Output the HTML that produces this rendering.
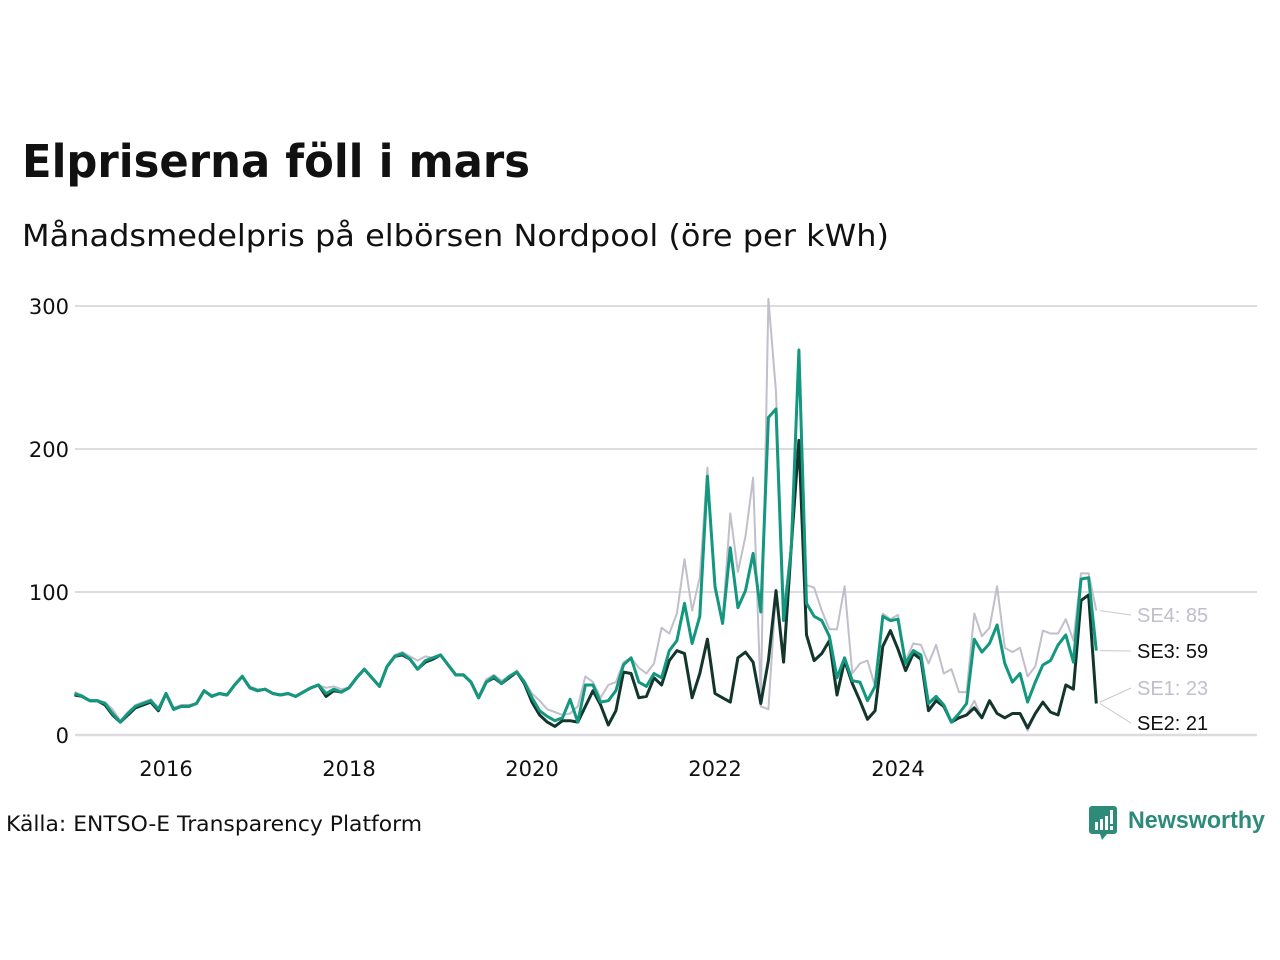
<!DOCTYPE html>
<html><head><meta charset="utf-8"><style>
body{margin:0;background:#fff;width:1280px;height:960px;overflow:hidden;font-family:"Liberation Sans",sans-serif}
svg{position:absolute;left:0;top:0}
</style></head><body>
<svg width="1280" height="960">
<text x="22" y="177" font-size="45" font-weight="bold" fill="#111" textLength="508" lengthAdjust="spacingAndGlyphs" font-family="DejaVu Sans, sans-serif">Elpriserna föll i mars</text>
<text x="22" y="246" font-size="30" fill="#111" textLength="867" lengthAdjust="spacingAndGlyphs" font-family="DejaVu Sans, sans-serif">Månadsmedelpris på elbörsen Nordpool (öre per kWh)</text>
<g id="grid"></g><g id="lines"></g><g id="labels"></g>
<text x="6" y="831" font-size="21" fill="#111" textLength="416" lengthAdjust="spacingAndGlyphs" font-family="DejaVu Sans, sans-serif">Källa: ENTSO-E Transparency Platform</text>
<g>
<path d="M1092 806h22a3 3 0 0 1 3 3v22a3 3 0 0 1-3 3h-7l-5 6-2-6h-8a3 3 0 0 1-3-3v-22a3 3 0 0 1 3-3z" fill="#2e8b7a"/>
<rect x="1095" y="822" width="3" height="8" fill="#fff"/><rect x="1100" y="819" width="3" height="11" fill="#fff"/><rect x="1105" y="816" width="3" height="14" fill="#fff"/><rect x="1110" y="810" width="3" height="14" fill="#fff"/><rect x="1110" y="826" width="3" height="4" fill="#fff"/>
<text x="1128" y="828" font-size="24" font-weight="bold" fill="#2e8b7a" textLength="137" lengthAdjust="spacingAndGlyphs">Newsworthy</text>
</g>
</svg>
<script>
const yTicks=[0,100,200,300];
const xTickLabels=["2016","2018","2020","2022","2024"];
const xTickMonths=[12,36,60,84,108];
const se3=[29,27,24,24,22,15,9,15,20,22,24,18,29,18,20,20,22,31,27,29,28,35,41,33,31,32,29,28,29,27,30,33,35,29,32,30,33,40,46,40,34,48,55,57,53,46,52,54,56,49,42,42,37,26,37,41,36,41,44,37,26,17,13,
10,12,25,9,35,35,23,24,31,49,54,37,34,43,40,59,66,92,64,83,181,104,78,131,89,101,127,86,222,228,80,131,269,92,83,80,69,40,54,38,37,24,34,83,80,81,50,59,56,22,27,21,9,15,22,67,58,64,77,50,37,43,23,37,49,52,63,70,51,109,110,59];
const se2=[28,27,24,24,21,14,9,14,19,21,23,17,29,18,20,20,22,31,27,29,28,35,41,33,31,32,29,28,29,27,30,33,35,27,31,30,33,40,46,40,34,48,55,56,53,46,51,53,56,49,42,42,37,26,37,40,36,40,44,36,23,14,9,
6,10,10,9,20,31,21,7,17,44,43,26,27,40,35,52,59,57,26,43,67,29,26,23,54,58,51,22,52,101,51,132,206,70,52,57,66,28,52,36,24,11,17,62,73,60,45,57,53,17,24,20,9,12,14,19,12,24,15,12,15,15,5,15,23,16,14,35,32,94,98,22];
const se1=[28,27,24,24,21,14,9,14,19,21,23,17,29,18,20,20,22,31,27,29,28,35,41,33,31,32,29,28,29,27,30,33,35,27,31,30,33,40,46,40,34,48,55,56,53,46,51,53,56,49,42,42,37,26,37,40,36,40,44,36,23,14,9,
6,10,10,9,20,31,21,7,17,44,43,26,27,40,35,52,59,57,26,43,67,29,26,23,54,58,51,20,18,101,51,132,206,70,52,57,66,28,52,36,24,11,17,62,73,60,45,57,53,17,24,20,9,12,14,24,12,24,15,12,15,15,3,15,23,16,14,35,32,94,98,23];
const se4=[30,28,24,24,23,18,10,16,21,23,25,19,29,19,21,21,22,31,28,29,28,35,41,34,32,32,29,28,29,27,30,33,35,33,34,32,33,40,46,40,34,48,56,58,55,52,55,54,56,49,42,42,37,27,39,42,38,41,45,38,29,24,18,
16,14,15,20,41,37,26,35,37,51,54,47,43,50,75,71,85,123,87,110,187,101,80,155,114,139,180,25,305,240,90,130,270,105,103,87,74,74,104,43,50,52,34,85,81,84,52,64,63,50,63,43,46,30,30,85,69,75,104,61,58,61,41,48,73,71,71,81,66,113,113,87];
const seriesNames=["SE4","SE3","SE1","SE2"];
const endLabelValues=[85,59,23,21];
const NS="http://www.w3.org/2000/svg";
const X=i=>74.5+7.625*i;
const Y=v=>735-1.43*v;
const grid=document.getElementById('grid'),lines=document.getElementById('lines'),labels=document.getElementById('labels');
function mk(tag,attrs,parent){const e=document.createElementNS(NS,tag);for(const k in attrs)e.setAttribute(k,attrs[k]);parent.appendChild(e);return e;}
yTicks.forEach(v=>{
  const l=mk('line',{x1:75,x2:1257,y1:Y(v),y2:Y(v),stroke:'#dcdce0','stroke-width':v===0?2.5:2},grid);
  
  
  const t=mk('text',{x:69,y:Y(v)+8,'text-anchor':'end','font-size':21,fill:'#111','font-family':'DejaVu Sans, sans-serif'},grid);
  t.textContent=v;
  
  
});
xTickLabels.forEach((s,k)=>{
  const t=mk('text',{x:X(xTickMonths[k]),y:776,'text-anchor':'middle','font-size':21,fill:'#111','font-family':'DejaVu Sans, sans-serif'},grid);
  t.textContent=s;
  
  
});
function path(arr){return arr.map((v,i)=>(i?'L':'M')+X(i).toFixed(1)+' '+Y(v).toFixed(1)).join('');}
const styles=[[se4,'#c0bfca',2,'line-se4'],[se1,'#c0bfca',2,'line-se1'],[se2,'#12362c',3,'line-se2'],[se3,'#14977f',3,'line-se3']];
styles.forEach(s=>{
  const p=mk('path',{d:path(s[0]),fill:'none',stroke:s[1],'stroke-width':s[2],'stroke-linejoin':'round'},lines);
  
  
});
const endArrs=[se4,se3,se1,se2];
const labelY=[615,651,688,723];
const labelCol=['#c0bfca','#111','#c0bfca','#111'];
seriesNames.forEach((n,k)=>{
  const last=endArrs[k][endArrs[k].length-1];
  const ln=mk('line',{x1:1100,y1:Y(last),x2:1131,y2:labelY[k],stroke:'#c8c8cc','stroke-width':1},labels);
  
  
  const t=mk('text',{x:1137,y:labelY[k]+7,'font-size':20,fill:labelCol[k]},labels);
  t.textContent=n+': '+endLabelValues[k];
  
  
});
</script>
</body></html>
